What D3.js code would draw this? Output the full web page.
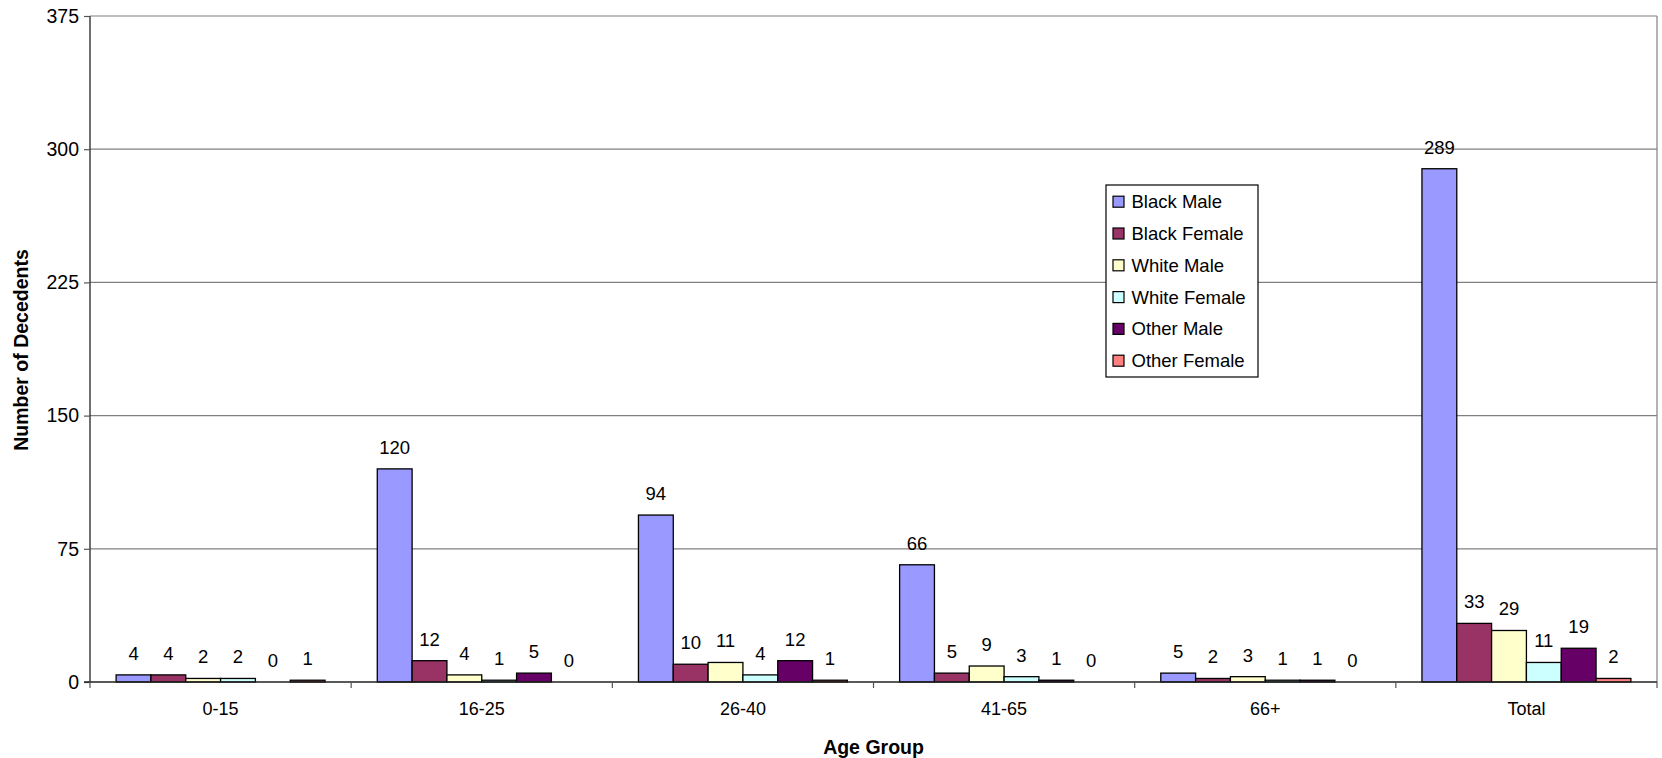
<!DOCTYPE html>
<html>
<head>
<meta charset="utf-8">
<script src="https://cdn.jsdelivr.net/npm/d3@7"></script>
<style>
  html, body { margin: 0; padding: 0; background: #fff; }
  svg { display: block; font-family: "Liberation Sans", Arial, sans-serif; }
</style>
</head>
<body>
<svg id="chart" width="1662" height="758"></svg>
<script>
const categories = ["0-15", "16-25", "26-40", "41-65", "66+", "Total"];
const seriesNames = ["Black Male", "Black Female", "White Male", "White Female", "Other Male", "Other Female"];
const seriesColors = ["#9999FF", "#993366", "#FFFFCC", "#CCFFFF", "#660066", "#FF8080"];
const blackMale   = [4, 120, 94, 66, 5, 289];
const blackFemale = [4, 12, 10, 5, 2, 33];
const whiteMale   = [2, 4, 11, 9, 3, 29];
const whiteFemale = [2, 1, 4, 3, 1, 11];
const otherMale   = [0, 5, 12, 1, 1, 19];
const otherFemale = [1, 0, 1, 0, 0, 2];
const yTicks = [0, 75, 150, 225, 300, 375];
const yTitle = "Number of Decedents";
const xTitle = "Age Group";

const seriesValues = [blackMale, blackFemale, whiteMale, whiteFemale, otherMale, otherFemale];

const svg = d3.select("#chart");
const pLeft = 90, pRight = 1657, pTop = 16, pBottom = 682;

const x0 = d3.scaleBand().domain(categories).range([pLeft, pRight]).paddingInner(0).paddingOuter(0);
// Excel gap width 150%: 6 bars + 1.5 bar-widths of gap per group
const gw = x0.bandwidth();
const bw = gw / 7.5;
const x1 = d3.scaleBand().domain(seriesNames).range([0.75 * bw, gw - 0.75 * bw]).padding(0);
const y = d3.scaleLinear().domain([0, 375]).range([pBottom, pTop]);

// gridlines
svg.append("g").selectAll("line").data(yTicks.filter(t => t > 0)).join("line")
  .attr("x1", pLeft).attr("x2", pRight)
  .attr("y1", d => y(d)).attr("y2", d => y(d))
  .attr("stroke", "#808080").attr("stroke-width", 1.2);

// right border
svg.append("line").attr("x1", pRight).attr("x2", pRight).attr("y1", pTop).attr("y2", pBottom)
  .attr("stroke", "#808080").attr("stroke-width", 1.2);

// bars
const groups = svg.append("g").selectAll("g").data(categories).join("g")
  .attr("transform", d => `translate(${x0(d)},0)`);

groups.each(function(cat, ci) {
  const g = d3.select(this);
  const rows = seriesNames.map((s, si) => ({ s, si, v: seriesValues[si][ci] }));
  g.selectAll("rect").data(rows.filter(r => r.v > 0)).join("rect")
    .attr("x", r => x1(r.s))
    .attr("width", x1.bandwidth())
    .attr("y", r => y(r.v))
    .attr("height", r => y(0) - y(r.v))
    .attr("fill", r => seriesColors[r.si])
    .attr("stroke", "#000").attr("stroke-width", 1.3);
  g.selectAll("text").data(rows).join("text")
    .attr("x", r => x1(r.s) + x1.bandwidth() / 2)
    .attr("y", r => y(r.v) - 15)
    .attr("text-anchor", "middle")
    .attr("font-size", 18.5)
    .attr("fill", "#000")
    .text(r => r.v);
});

// y axis
const yAxis = d3.axisLeft(y).tickValues(yTicks).tickSize(6).tickPadding(5);
const ya = svg.append("g").attr("transform", `translate(${pLeft},0)`).call(yAxis);
ya.select(".domain").attr("stroke", "#222").attr("stroke-width", 1.3).attr("d", `M0,${pBottom}V${pTop}`);
ya.selectAll(".tick line").attr("stroke", "#555").attr("stroke-width", 1.2);
ya.selectAll(".tick text").attr("font-size", 19.5).attr("fill", "#000")
  .attr("font-family", "Liberation Sans, Arial, sans-serif");

// x axis
const xa = svg.append("g").attr("transform", `translate(0,${pBottom})`)
  .call(d3.axisBottom(x0).tickSize(0).tickPadding(20));
xa.select(".domain").attr("stroke", "#222").attr("stroke-width", 1.3).attr("d", `M${pLeft - 6},0H${pRight}`);
xa.selectAll(".tick text").attr("font-size", 18).attr("fill", "#000")
  .attr("font-family", "Liberation Sans, Arial, sans-serif");
// boundary ticks
const bounds = categories.map(c => x0(c)).concat([pRight]);
svg.append("g").selectAll("line").data(bounds).join("line")
  .attr("x1", d => d).attr("x2", d => d)
  .attr("y1", pBottom).attr("y2", pBottom + 6)
  .attr("stroke", "#555").attr("stroke-width", 1.2);

// axis titles
svg.append("text")
  .attr("transform", `translate(28,350) rotate(-90)`)
  .attr("text-anchor", "middle")
  .attr("font-weight", "bold").attr("font-size", 19.5)
  .text(yTitle);
svg.append("text")
  .attr("x", (pLeft + pRight) / 2).attr("y", 754)
  .attr("text-anchor", "middle")
  .attr("font-weight", "bold").attr("font-size", 19.5)
  .text(xTitle);

// legend
const lg = svg.append("g");
lg.append("rect").attr("x", 1106).attr("y", 185).attr("width", 152).attr("height", 192)
  .attr("fill", "#fff").attr("stroke", "#000").attr("stroke-width", 1.2);
const items = lg.selectAll("g.item").data(seriesNames).join("g").attr("class", "item")
  .attr("transform", (d, i) => `translate(1113,${201.7 + i * 31.8})`);
items.append("rect").attr("x", 0).attr("y", -5.5).attr("width", 11).attr("height", 11)
  .attr("fill", (d, i) => seriesColors[i]).attr("stroke", "#000").attr("stroke-width", 1.2);
items.append("text").attr("x", 18.5).attr("y", 6.5).attr("font-size", 18.5).attr("fill", "#000")
  .text(d => d);
</script>
</body>
</html>
